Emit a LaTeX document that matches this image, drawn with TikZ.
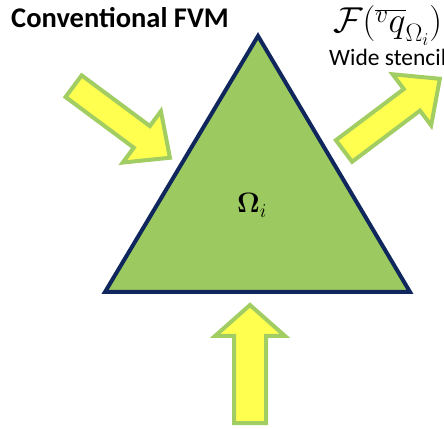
\RequirePackage{fix-cm}
\documentclass[tikz,border=0pt]{standalone}
\usepackage[no-math]{fontspec}
\setsansfont{Carlito}
\definecolor{arrowfill}{HTML}{FFFF50}
\definecolor{arrowline}{HTML}{A2CD63}
\definecolor{trifill}{HTML}{9DCA60}
\definecolor{triline}{HTML}{0F275C}
\tikzset{
  fatarrowstyle/.style={fill=arrowfill, draw=arrowline, line width=4pt, line join=miter},
  tristyle/.style={fill=trifill, draw=triline, line width=4pt, line join=miter},
  labelstyle/.style={anchor=base west, inner sep=0pt}
}
% x y angle length shaft-halfwidth head-halfwidth head-length
\newcommand{\myfatarrow}[7]{%
  \draw[fatarrowstyle, shift={(#1,#2)}, rotate=#3]
    (0,-#5) -- ({#4-#7},-#5) -- ({#4-#7},-#6) -- (#4,0) -- ({#4-#7},#6) -- ({#4-#7},#5) -- (0,#5) -- cycle;}
\begin{document}
\begin{tikzpicture}[x=1pt,y=1pt]
\useasboundingbox (0,0) rectangle (444,428);
\clip (0,0) rectangle (444,428);
% arrows
\myfatarrow{73.6}{341.8}{-36.6}{120}{13.5}{32}{35}
\myfatarrow{344}{277}{37}{120}{13.5}{32}{35}
\myfatarrow{250}{5}{90}{118}{16}{35}{31}
% triangle
\coordinate (apex) at (258,392);
\coordinate (bl) at (105,136);
\coordinate (br) at (410,136);
\draw[tristyle] (apex) -- (bl) -- (br) -- cycle;
% labels
\node[labelstyle, font=\sffamily\bfseries\fontsize{28.5}{30}\selectfont] (title) at (11,400) {Conventional FVM};
\node[labelstyle, font=\sffamily\fontsize{23.5}{26}\selectfont] (wide) at (329,362) {Wide stencil};
\node[labelstyle, font=\fontsize{36}{40}\selectfont] (flux) at (333,395) {$\mathcal{F}(\overline{{}^{v}q}_{\Omega_i})$};
\node[labelstyle, font=\fontsize{28}{32}\selectfont] (omega) at (237,215) {$\mathbf{\Omega}_i$};
\end{tikzpicture}
\end{document}
